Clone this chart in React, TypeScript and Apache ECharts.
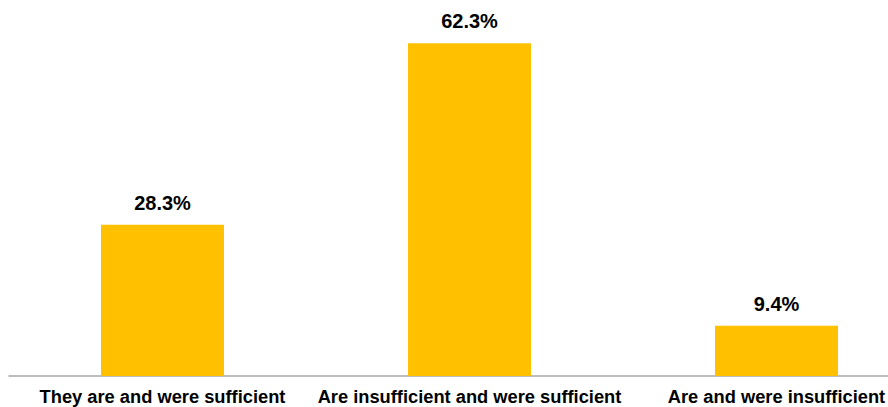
import React, { useEffect, useRef } from "react";
import * as echarts from "echarts";

const categories = [
  "They are and were sufficient",
  "Are insufficient and were sufficient",
  "Are and were insufficient",
];
const shares = [28.3, 62.3, 9.4];

export default function App() {
  const ref = useRef<HTMLDivElement>(null);

  useEffect(() => {
    if (!ref.current) return;
    const chart = echarts.init(ref.current, undefined, { renderer: "svg" });
    chart.setOption({
      animation: false,
      grid: { left: 9, top: 2, width: 921, height: 374, containLabel: false, outerBoundsMode: "none" },
      xAxis: {
        type: "category",
        data: categories,
        axisLine: { show: true, lineStyle: { color: "#a6a6a6", width: 1.5 } },
        axisTick: { show: false },
        axisLabel: {
          interval: 0,
          margin: 11,
          color: "#000",
          fontSize: 18.3,
          fontWeight: "bold",
          fontFamily: "Liberation Sans, Arial, sans-serif",
        },
      },
      yAxis: {
        type: "value",
        min: 0,
        max: 70,
        show: false,
        splitLine: { show: false },
      },
      series: [
        {
          type: "bar",
          data: shares,
          barWidth: 123,
          itemStyle: { color: "#FFC000" },
          label: {
            show: true,
            position: "top",
            distance: 12,
            formatter: (p: any) => `${p.value.toFixed(1)}%`,
            color: "#000",
            fontSize: 20,
            fontWeight: "bold",
            fontFamily: "Liberation Sans, Arial, sans-serif",
          },
        },
      ],
    });
    return () => chart.dispose();
  }, []);

  // The plot runs past the right edge, so the last category label is cut off.
  return (
    <div
      style={{
        position: "fixed",
        left: 0,
        top: 0,
        width: 888,
        height: 407,
        overflow: "hidden",
        background: "#fff",
      }}
    >
      <div ref={ref} style={{ width: 940, height: 407 }} />
    </div>
  );
}
